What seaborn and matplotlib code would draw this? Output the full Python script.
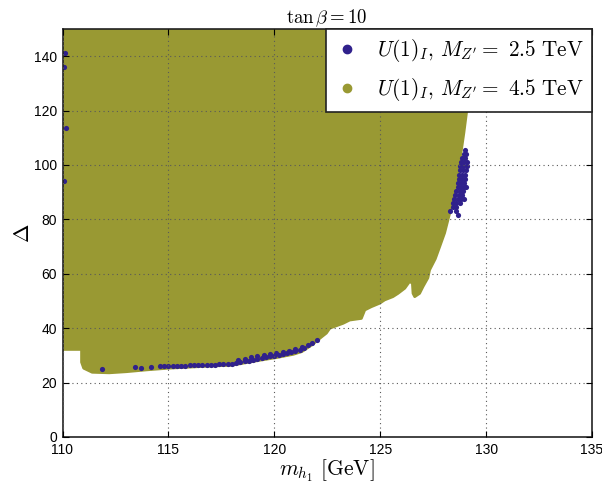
import numpy as np
import pandas as pd
import matplotlib
matplotlib.use("Agg")
import matplotlib.pyplot as plt
import seaborn as sns
from matplotlib.lines import Line2D

# ---- data ----
# outline of the dense M_Z' = 4.5 TeV scan region (m_h1 [GeV], Delta)
region_x = [110.0, 129.6, 129.3, 129.11, 128.95, 128.72, 128.51, 128.28, 128.04, 127.81,
            127.6, 127.33, 127.25, 127.02, 126.86, 126.63, 126.55, 126.52, 126.39, 126.16,
            125.84, 125.60, 125.21, 124.98, 124.58, 124.27, 124.11, 123.56, 123.25, 122.62,
            122.46, 122.2, 121.8, 121.3, 120.9, 120.1, 119.3, 118.0, 117.0, 116.0,
            115.0, 114.0, 113.0, 112.2, 111.4, 111.0, 110.9, 110.9, 110.0]
region_y = [152.0, 152.0, 130.0, 121.4, 111.8, 99.4, 89.7, 82.3, 75.0, 70.0,
            65.5, 61.4, 58.5, 55.3, 52.8, 51.6, 52.8, 56.5, 57.2, 54.7,
            52.8, 51.6, 50.4, 49.2, 47.9, 46.7, 43.6, 43.0, 41.8, 40.0,
            38.2, 36.6, 34.0, 31.4, 30.4, 29.2, 28.2, 26.4, 26.1, 25.7,
            25.3, 24.7, 24.0, 23.6, 23.8, 25.3, 27.5, 32.2, 32.2]

# M_Z' = 2.5 TeV points: band along the lower edge
band_x = [114.6, 114.8, 115.0, 115.2, 115.4, 115.6, 115.8, 116.0, 116.2, 116.4,
          116.6, 116.8, 117.0, 117.2, 117.4, 117.6, 117.8, 118.0,
          118.2, 118.4, 118.6, 118.8, 119.0, 119.2, 119.4, 119.6, 119.8, 120.0,
          120.2, 120.4, 120.6, 120.8, 121.0, 121.2, 121.4, 121.6, 121.8, 122.0,
          118.3, 118.6, 118.9, 119.2, 119.5, 119.8, 120.1, 120.4, 120.7, 121.0, 121.3,
          111.85, 113.4, 113.7, 114.2]
band_y = [26.0, 26.0, 26.1, 26.1, 26.2, 26.2, 26.2, 26.3, 26.3, 26.4,
          26.4, 26.5, 26.5, 26.6, 26.7, 26.8, 26.9, 27.0,
          27.2, 27.5, 27.8, 28.1, 28.4, 28.7, 29.0, 29.3, 29.6, 29.9,
          30.2, 30.5, 30.8, 31.1, 31.5, 32.1, 32.9, 33.7, 34.6, 35.5,
          28.3, 28.8, 29.3, 29.7, 30.1, 30.5, 30.9, 31.3, 31.7, 32.3, 33.1,
          25.0, 25.7, 25.5, 25.8]
# cluster near m_h1 ~ 129 GeV
cluster_x = [129.0, 128.95, 129.05, 128.85, 129.0, 128.8, 128.95, 129.08,
             128.78, 128.93, 129.08, 128.75, 128.9, 129.05, 128.72, 128.87, 129.02,
             128.7, 128.85, 129.0, 128.68, 128.83, 128.98, 128.65, 128.8, 128.95, 129.05,
             128.6, 128.75, 128.9, 128.55, 128.7, 128.85, 128.5, 128.65, 128.8, 128.95,
             128.45, 128.6, 128.75, 128.45, 128.6, 128.6, 128.3, 128.65]
cluster_y = [105.5, 104.0, 104.0, 102.5, 102.5, 101.0, 101.0, 101.0,
             99.5, 99.5, 99.5, 98.0, 98.0, 98.0, 96.5, 96.5, 96.5,
             95.0, 95.0, 95.0, 93.5, 93.5, 93.5, 92.0, 92.0, 92.0, 92.0,
             90.5, 90.5, 90.5, 89.0, 89.0, 89.0, 87.5, 87.5, 87.5, 87.5,
             86.0, 86.0, 86.0, 84.5, 84.5, 83.0, 83.0, 81.5]
# sparse points at the left edge
edge_x = [110.1, 110.05, 110.15, 110.05]
edge_y = [141.0, 136.0, 113.6, 94.0]

series_labels = [r"$U(1)_I,\, M_{Z^\prime} = \ 2.5\ \mathrm{TeV}$",
                 r"$U(1)_I,\, M_{Z^\prime} = \ 4.5\ \mathrm{TeV}$"]
x_ticks = [110, 115, 120, 125, 130, 135]
y_ticks = [0, 20, 40, 60, 80, 100, 120, 140]

OLIVE = "#999933"
BLUE = "#30218c"

plt.rcParams["mathtext.fontset"] = "cm"
plt.rcParams["font.family"] = ["Liberation Sans", "DejaVu Sans"]

fig = plt.figure(figsize=(6.02, 4.87), dpi=100)
ax = fig.add_axes([62.5 / 602, 1 - 437 / 487, (592 - 62.5) / 602, (437 - 29) / 487])

ax.fill(region_x, region_y, color=OLIVE, lw=2.0, edgecolor=OLIVE, zorder=1,
        joinstyle="round")

df = pd.DataFrame({"m": band_x + cluster_x + edge_x,
                   "d": band_y + cluster_y + edge_y})
sns.scatterplot(data=df, x="m", y="d", ax=ax, color=BLUE, s=14, linewidth=0,
                zorder=2, legend=False)

ax.set_xlim(110, 135)
ax.set_ylim(0, 150)
ax.set_xticks(x_ticks)
ax.set_yticks(y_ticks)
ax.set_axisbelow(False)
ax.grid(True, color="0.35", lw=0.8, ls=(0, (1, 3)))
ax.tick_params(direction="in", length=4, width=0.8, top=True, right=True,
               labelsize=10, pad=4)
for s in ax.spines.values():
    s.set_linewidth(1.2)
    s.set_color("#222222")

ax.set_xlabel(r"$m_{h_1}\ [\mathrm{GeV}]$", fontsize=15.5, labelpad=1)
ax.set_ylabel(r"$\Delta$", fontsize=16, labelpad=0)
ax.set_title(r"$\tan\beta = 10$", fontsize=13.5, pad=4)

handles = [Line2D([], [], marker="o", ls="", color=BLUE, markersize=6),
           Line2D([], [], marker="o", ls="", color=OLIVE, markersize=6)]
leg = ax.legend(handles, series_labels, loc="upper right", borderaxespad=0,
                fontsize=15.3, numpoints=1, fancybox=False, framealpha=1,
                edgecolor="#222222", labelspacing=0.55, borderpad=0.4,
                handlelength=1.2, handletextpad=0.8)
leg.get_frame().set_linewidth(1.2)
leg.set_zorder(5)

fig.savefig("out.png", dpi=100)
